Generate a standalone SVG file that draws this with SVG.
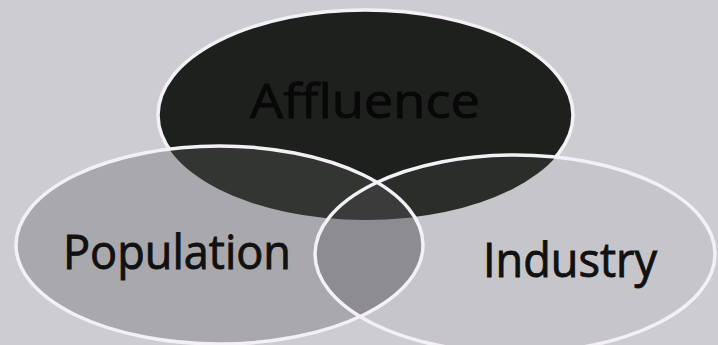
<svg xmlns="http://www.w3.org/2000/svg" width="718" height="345" viewBox="0 0 718 345">
  <style>
    .edge { fill: none; stroke: #f3f1f6; stroke-width: 3.5; }
    .lbl { font-family: "Open Sans", "Noto Sans", "Liberation Sans", sans-serif; font-size: 47px; fill: #111112; stroke: #111112; stroke-width: 0.9; }
  </style>
  <defs>
    <clipPath id="clipPop"><ellipse cx="219.5" cy="245" rx="203.5" ry="99"/></clipPath>
    <clipPath id="clipInd"><ellipse cx="515" cy="254" rx="200" ry="99"/></clipPath>
  </defs>
  <rect x="0" y="0" width="718" height="345" fill="#cdccd1"/>

  <g id="affluence">
    <ellipse cx="365.5" cy="115" rx="207.5" ry="105" fill="#1e201e" stroke="#f3f1f6" stroke-width="3.5"/>
    <text class="lbl" x="250" y="118" textLength="230" lengthAdjust="spacingAndGlyphs" style="fill:#080808;stroke:#080808">Affluence</text>
  </g>

  <g id="population">
    <ellipse cx="219.5" cy="245" rx="203.5" ry="99" fill="#a9a8ad"/>
    <ellipse cx="365.5" cy="115" rx="207.5" ry="105" fill="#333533" clip-path="url(#clipPop)"/>
    <text class="lbl" x="63" y="269" textLength="228" lengthAdjust="spacingAndGlyphs">Population</text>
  </g>

  <g id="industry">
    <ellipse cx="515" cy="254" rx="200" ry="99" fill="#c6c5ca"/>
    <ellipse cx="365.5" cy="115" rx="207.5" ry="105" fill="#2b2d2b" clip-path="url(#clipInd)"/>
    <g clip-path="url(#clipInd)">
      <ellipse cx="219.5" cy="245" rx="203.5" ry="99" fill="#8d8c90"/>
      <ellipse cx="365.5" cy="115" rx="207.5" ry="105" fill="#3a3b3a" clip-path="url(#clipPop)"/>
    </g>
    <text class="lbl" x="483" y="277" textLength="174" lengthAdjust="spacingAndGlyphs">Industry</text>
  </g>

  <g id="outlines">
    <ellipse class="edge" cx="219.5" cy="245" rx="203.5" ry="99"/>
    <ellipse class="edge" cx="515" cy="254" rx="200" ry="99"/>
  </g>
</svg>
